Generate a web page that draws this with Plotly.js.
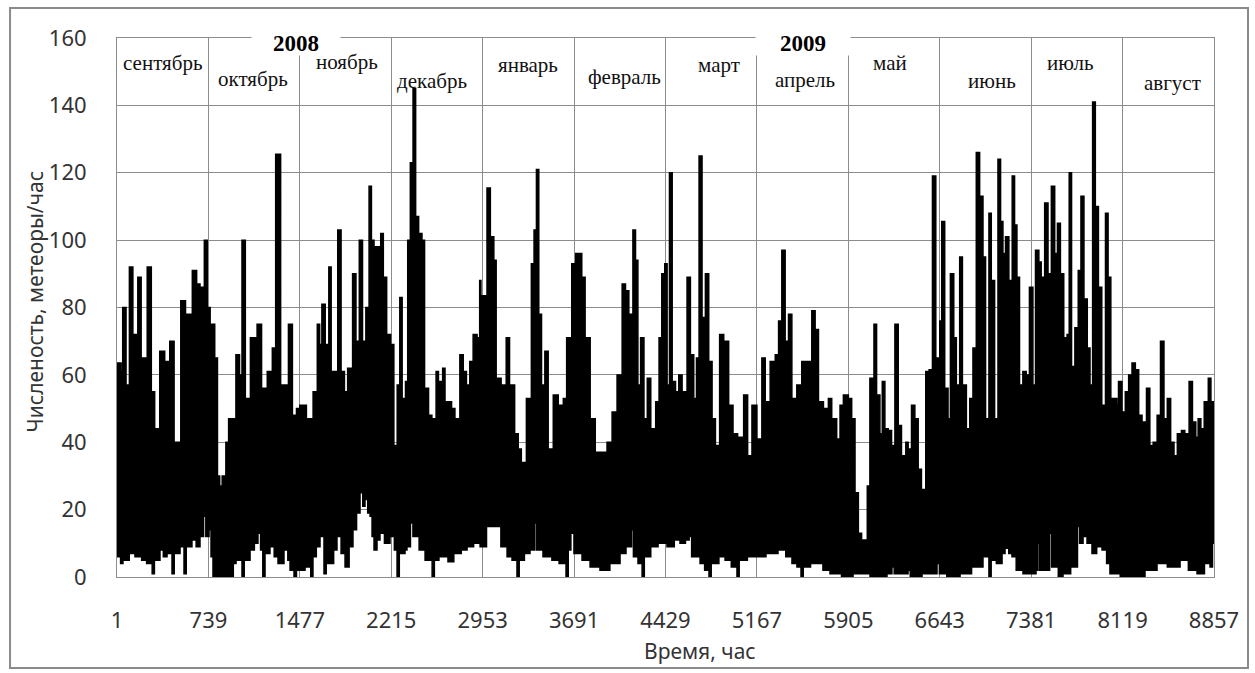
<!DOCTYPE html>
<html>
<head>
<meta charset="utf-8">
<script src="https://cdn.plot.ly/plotly-3.0.1.min.js"></script>
<style>html,body{margin:0;padding:0;background:#ffffff;}</style>
</head>
<body>
<div id="chart" style="width:1255px;height:673px;"></div>
<script>
// Upper envelope of hourly meteor counts (hour index, meteors/hour)
const upperHours = [1,34,47,74,101,129,169,196,245,278,305,346,386,427,462,516,554,609,644,671,706,730,753,790,812,830,850,880,902,961,990,1010,1037,1078,1132,1168,1214,1255,1282,1322,1385,1417,1450,
1477,1530,1584,1618,1637,1655,1682,1711,1730,1783,1810,1837,1863,1903,1930,1957,1983,2010,2036,2055,2076,2103,2130,2151,2178,2210,2236,2263,2284,2303,2330,2348,2369,2391,2412,2436,2463,2484,2516,2543,2577,2596,2630,2649,2676,2702,2729,2769,2796,2822,2849,2876,2908,2929,
2939,2988,3015,3043,3062,3102,3143,3170,3211,3240,3265,3306,3346,3368,3387,3406,3428,3455,3482,3523,3563,3604,3631,3672,3704,3726,3753,3780,3821,3862,3903,3957,3998,4038,4079,4106,4133,4166,4187,4206,4228,4255,4282,4310,4350,4377,4399,4423,
4442,4461,4483,4510,4536,4563,4603,4630,4657,4679,4700,4724,4751,4778,4805,4832,4866,4899,4939,4974,5011,5060,5092,5127,5167,5207,5234,5274,5315,5342,5368,5395,5422,5449,5489,5529,5570,5610,5637,5664,5704,5744,5771,5811,5838,5865,5905,
5932,5959,5986,6012,6047,6058,6079,6112,6133,6160,6179,6200,6227,6254,6281,6308,6334,6369,6388,6415,6442,6469,6495,6530,6557,6584,6611,6643,6659,6683,6710,6729,6756,6777,6804,6826,6858,6885,6911,6938,6965,6992,7013,7040,7059,7086,7113,7134,7153,7174,7201,7228,7247,7266,7287,7314,7341,
7367,7395,7416,7443,7462,7490,7517,7544,7571,7593,7617,7644,7671,7688,7707,7734,7761,7783,7807,7834,7856,7877,7899,7924,7951,7981,8002,8024,8046,8073,8086,8114,8141,8168,8195,8222,8249,8276,8312,8339,8366,8398,8425,8453,8480,8507,8534,8561,8594,8621,8656,8683,8710,8729,8751,8778,8811,8832,8857];
const upperValues = [63.5,61,80,57,92,72,89,65,92,55,44,67,64,70,40,82,78,91,87,86,100,80,75,65,30,27,30,40,47,66,60,100,53,71,75,56,61,68,125.5,57,75,48,50,
51,47,55,75,69,81,69,92,61,103,61,55,62,90,70,100,70,80,116,100,98,98,102,89,72,69,39,57,83,53,58,100,123,145,107,102,100,56,48,47,61,58,62,52,52,50,47,66,61,57,64,72,71,88,
83.5,115.5,101,94,59,57,71,57,42.5,38,34,53,93,103,121,78,57,67,38,54,51,53,71,93,96,96,89,71,47,37,37,40,49,60,87,85,78,103,94,57,71,47,59,44,52,71,90,93,
57,120,58,55,60,55,89,66,53,65,125,77,90,64,47,39,72,70,51,42.5,41.5,54,36,51,41,65,52,64,66,76,97,70,78,53,57,64,64,79,73.5,52,50,53,47,41,51,54,53,
47,25,13,11,11,27,59,75,54,42.5,58,44,43.5,39,75,45,36,40,38,51,47,32,26,61,61.5,119,65,76,105.5,56,47,90,71,57,95,57,44,53,68,126,113,95,47,108,88,47,124,105.5,96,101,88,119,104.5,89,57,61,60,
86,57,97,93.5,89,111,90,116,96,105,90,71,72,120,62.5,74,91,113,82.5,68,57,141,110,86,51,108,89,53,53,51,58,49,55,60,63.5,61.5,48,46,56,39,40,48,70,47,53,40,36,42.5,43.5,42.5,58,46,41.5,47,44,52,59,52,45];

// Lower envelope as [hour, meteors/hour] pairs
const lowerPoints = [[1,6],[30,4],[49,5],[100,7],[146,6],[200,5],[240,4],[285,1],[303,5],[348,8],[375,6],[405,7],[445,1],[463,7],[510,9],[542,1],[560,9],[606,11],[640,9],[671,12],[700,18],[718,12],[744,14],[760,6],[776,0],[889,0],[940,4],[962,5],[1010,0],[1028,5],[1075,8],[1110,10],[1139,13],[1160,8],[1178,0],[1196,7],[1236,9],[1270,6],[1301,4],[1349,8],[1380,5],[1398,2],[1430,0],[1450,2],[1519,3],[1565,0],[1583,6],[1610,9],[1640,12],[1672,1],[1690,4],[1721,4],[1750,8],[1777,12],[1810,7],[1842,3],[1875,9],[1906,14],[1935,19],[1963,25],[1985,21],[2003,23],[2025,19],[2044,18],[2060,12],[2076,8],[2100,11],[2124,13],[2160,10],[2205,12],[2240,8],[2262,0],[2280,7],[2326,8],[2342,9],[2370,16],[2390,12],[2407,12],[2440,8],[2488,5],[2545,0],[2563,5],[2600,6],[2673,4.5],[2720,7],[2780,8],[2827,9],[2880,10],[2932,9],[2984,25],[2996,15],[3053,15],[3100,9],[3150,6],[3190,5],[3230,0],[3248,5],[3290,7],[3335,8],[3370,16],[3385,8],[3440,6],[3512,5],[3570,4],[3626,0],[3644,8],[3665,13],[3690,7],[3755,5],[3820,3],[3900,2],[3980,4],[4062,7],[4110,9],[4155,14],[4170,6],[4207,4],[4240,0],[4258,6],[4310,9],[4369,10],[4441,9],[4500,11],[4546,10],[4590,11],[4620,12],[4640,6],[4708,4],[4745,2],[4780,0],[4798,4],[4860,6],[4910,5],[4960,3],[5006,0],[5024,5],[5090,6],[5152,6],[5240,7],[5337,8],[5400,6],[5450,4],[5490,3],[5523,0],[5541,3],[5600,4],[5636,4],[5700,2],[5757,1],[5850,0],[5943,1],[6080,0],[6217,1],[6257,3],[6275,1],[6387,2],[6405,0],[6500,1],[6621,4],[6640,1],[6700,0],[6807,1],[6900,3],[6992,6],[7040,0],[7058,5],[7100,4],[7146,7],[7170,8.5],[7200,7],[7226,6],[7260,2],[7315,1],[7420,2],[7434,10],[7448,2],[7510,2],[7530,13],[7546,3],[7600,0],[7638,1],[7700,3],[7755,15],[7772,10],[7800,12],[7832,10],[7872,7],[7910,9],[7953,8],[7990,4],[8017,1],[8100,0],[8235,0],[8300,2],[8397,4],[8480,3],[8583,5],[8650,2],[8720,1],[8780,4],[8825,3],[8845,10],[8857,10]];

const xTickVals = [1,739,1477,2215,2953,3691,4429,5167,5905,6643,7381,8119,8857];
const yTickVals = [0,20,40,60,80,100,120,140,160];

const months = ['сентябрь','октябрь','ноябрь','декабрь','январь','февраль','март','апрель','май','июнь','июль','август'];
const monthX = [372,1099,1860,2544,3319,4094,4860,5555,6241,7065,7694,8518];
const monthY = [152.5,147.8,153,147.3,152,148.4,152,147.6,152.6,147.3,152.6,146.7];

const years = ['2008','2009'];
const yearX = [1446,5540];
const yearY = [158.5,158.5];

const xTitle = 'Время, час';
const yTitle = 'Численость, метеоры/час';

const gridColor = '#8c8c8c';
const tickFont = {family:'Noto Sans, Open Sans, sans-serif', size:22, color:'#333333'};

const traces = [
  {x: lowerPoints.map(p=>p[0]), y: lowerPoints.map(p=>p[1]), type:'scatter', mode:'lines',
   line:{color:'#000000', width:1.5, shape:'hv'}, hoverinfo:'skip', showlegend:false},
  {x: upperHours, y: upperValues, type:'scatter', mode:'lines', line:{color:'#000000', width:1.5, shape:'hv'},
   fill:'tonexty', fillcolor:'#000000', showlegend:false}
];

const annotations = [];
months.forEach((m,i)=>annotations.push({x:monthX[i], y:monthY[i], xref:'x', yref:'y', text:m, showarrow:false,
  xanchor:'center', yanchor:'middle',
  font:{family:'Liberation Serif, Times New Roman, serif', size:21, color:'#111111'}}));
years.forEach((t,i)=>annotations.push({x:yearX[i], y:yearY[i], xref:'x', yref:'y', text:'<b>'+t+'</b>', showarrow:false,
  xanchor:'center', yanchor:'middle',
  bgcolor:'#ffffff', width: i===0?88:94, height:24, borderpad:0,
  font:{family:'Liberation Serif, Times New Roman, serif', size:23, color:'#000000'}}));
annotations.push({x:0.5315, y:-0.137, xref:'paper', yref:'paper', text:xTitle, showarrow:false,
  xanchor:'center', yanchor:'middle',
  font:{family:'Noto Sans, Open Sans, sans-serif', size:21, color:'#333333'}});
annotations.push({x:-0.0745, y:0.51, xref:'paper', yref:'paper', text:yTitle, textangle:-90, showarrow:false,
  xanchor:'center', yanchor:'middle',
  font:{family:'Noto Sans, Open Sans, sans-serif', size:21, color:'#333333'}});

const layout = {
  width:1255, height:673,
  margin:{l:117, r:41, t:38, b:96, pad:0},
  paper_bgcolor:'#ffffff', plot_bgcolor:'#ffffff',
  showlegend:false,
  xaxis:{range:[1,8857], tickmode:'array', tickvals:xTickVals, ticktext:xTickVals.map(String),
    showgrid:true, gridcolor:gridColor, gridwidth:1, zeroline:false,
    showline:true, mirror:true, linecolor:gridColor, linewidth:1,
    ticks:'', ticklabelstandoff:24, tickfont:tickFont, fixedrange:true},
  yaxis:{range:[0,160], tickmode:'array', tickvals:yTickVals, ticktext:yTickVals.map(String),
    showgrid:true, gridcolor:gridColor, gridwidth:1, zeroline:false,
    showline:true, mirror:true, linecolor:gridColor, linewidth:1,
    ticks:'', ticklabelstandoff:25, tickfont:tickFont, fixedrange:true},
  annotations: annotations,
  shapes:[{type:'rect', xref:'paper', yref:'paper', x0:-0.0975, x1:1.031, y0:-0.1688, y1:1.0557,
    line:{color:'#8a8a8a', width:2}, fillcolor:'rgba(0,0,0,0)', layer:'below'}]
};

Plotly.newPlot('chart', traces, layout, {displayModeBar:false, staticPlot:true});
</script>
</body>
</html>
